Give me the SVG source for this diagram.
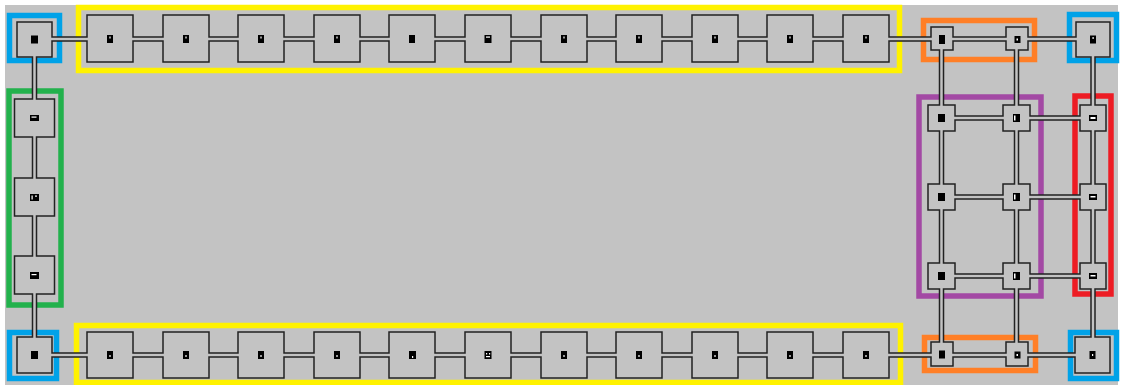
<svg xmlns="http://www.w3.org/2000/svg" width="1122" height="385" viewBox="0 0 1122 385">
<style>
.room{fill:#c3c3c3;stroke:#222;stroke-width:1.5}
.lbl{fill:#000}
.wd{fill:#fff}
.cw{fill:none;stroke:#222;stroke-width:5.5}
.cc{fill:none;stroke:#c3c3c3;stroke-width:2.5}
.zone{fill:none;stroke-width:5.5}
</style>
<rect x="0" y="0" width="1122" height="385" fill="#fff"/>
<rect x="5" y="5" width="1113" height="380" fill="#c3c3c3"/>
<g id="zones">
<rect class="zone" x="78.5" y="7.5" width="821" height="63" stroke="#fff200"/>
<rect class="zone" x="76.5" y="325.5" width="824" height="57" stroke="#fff200"/>
<rect class="zone" x="9.5" y="15.5" width="50" height="45" stroke="#00a2e8"/>
<rect class="zone" x="9.5" y="332.5" width="47" height="46" stroke="#00a2e8"/>
<rect class="zone" x="1069.5" y="14.5" width="47" height="46" stroke="#00a2e8"/>
<rect class="zone" x="1070.5" y="332.5" width="46" height="46" stroke="#00a2e8"/>
<rect class="zone" x="9" y="91" width="52" height="214" stroke="#22b14c" stroke-width="6"/>
<rect class="zone" x="919" y="97" width="122" height="199" stroke="#a349a4" stroke-width="6"/>
<rect class="zone" x="1075" y="96" width="36" height="198" stroke="#ed1c24" stroke-width="6"/>
<rect class="zone" x="923.5" y="20.5" width="111" height="39" stroke="#ff7f27"/>
<rect class="zone" x="924.5" y="337.5" width="111" height="33" stroke="#ff7f27"/>
</g>
<g id="nodes">
<g id="corner-tl"><rect class="room" x="17" y="22" width="35" height="35"/><rect class="lbl" x="31" y="35.5" width="7" height="8"/></g>
<g id="corner-bl"><rect class="room" x="17" y="337" width="35" height="36"/><rect class="lbl" x="31" y="351" width="7" height="8"/></g>
<g id="corner-tr"><rect class="room" x="1076" y="22" width="34" height="35"/><rect class="lbl" x="1090" y="35.5" width="6" height="8"/><rect class="wd" x="1092.5" y="37" width="1.2" height="2"/></g>
<g id="corner-br"><rect class="room" x="1075" y="337" width="35" height="36"/><rect class="lbl" x="1089.5" y="351" width="6" height="8"/><rect class="wd" x="1092" y="354" width="1.2" height="2"/></g>

<g id="t1"><rect class="room" x="87" y="15" width="46" height="47"/><rect class="lbl" x="107" y="35" width="6" height="8"/><rect class="wd" x="109.4" y="36.5" width="1.2" height="2"/></g>
<g id="t2"><rect class="room" x="163" y="15" width="46" height="47"/><rect class="lbl" x="183" y="35" width="6" height="8"/><rect class="wd" x="185.4" y="36.5" width="1.2" height="2"/></g>
<g id="t3"><rect class="room" x="238" y="15" width="46" height="47"/><rect class="lbl" x="258" y="35" width="6" height="8"/><rect class="wd" x="260.4" y="36.5" width="1.2" height="2"/></g>
<g id="t4"><rect class="room" x="314" y="15" width="46" height="47"/><rect class="lbl" x="334" y="35" width="6" height="8"/><rect class="wd" x="336.4" y="36.5" width="1.2" height="2"/></g>
<g id="t5"><rect class="room" x="389" y="15" width="46" height="47"/><rect class="lbl" x="409" y="35" width="6" height="8"/></g>
<g id="t6"><rect class="room" x="465" y="15" width="46" height="47"/><rect class="lbl" x="484.5" y="35" width="7" height="8"/><rect class="wd" x="486" y="36.5" width="4" height="1.2"/></g>
<g id="t7"><rect class="room" x="541" y="15" width="46" height="47"/><rect class="lbl" x="561" y="35" width="6" height="8"/><rect class="wd" x="563.4" y="36.5" width="1.2" height="2"/></g>
<g id="t8"><rect class="room" x="616" y="15" width="46" height="47"/><rect class="lbl" x="636" y="35" width="6" height="8"/><rect class="wd" x="638.4" y="36.5" width="1.2" height="2"/></g>
<g id="t9"><rect class="room" x="692" y="15" width="46" height="47"/><rect class="lbl" x="712" y="35" width="6" height="8"/><rect class="wd" x="714.4" y="36.5" width="1.2" height="2"/></g>
<g id="t10"><rect class="room" x="767" y="15" width="46" height="47"/><rect class="lbl" x="787" y="35" width="6" height="8"/><rect class="wd" x="789.4" y="36.5" width="1.2" height="2"/></g>
<g id="t11"><rect class="room" x="843" y="15" width="46" height="47"/><rect class="lbl" x="863" y="35" width="6" height="8"/><rect class="wd" x="865.4" y="36.5" width="1.2" height="2"/></g>

<g id="b1"><rect class="room" x="87" y="332" width="46" height="46"/><rect class="lbl" x="107" y="351" width="6" height="8"/><rect class="wd" x="109.4" y="355" width="1.2" height="2"/></g>
<g id="b2"><rect class="room" x="163" y="332" width="46" height="46"/><rect class="lbl" x="183" y="351" width="6" height="8"/><rect class="wd" x="185.4" y="355" width="1.2" height="2"/></g>
<g id="b3"><rect class="room" x="238" y="332" width="46" height="46"/><rect class="lbl" x="258" y="351" width="6" height="8"/><rect class="wd" x="260.4" y="355" width="1.2" height="2"/></g>
<g id="b4"><rect class="room" x="314" y="332" width="46" height="46"/><rect class="lbl" x="334" y="351" width="6" height="8"/><rect class="wd" x="336.4" y="355" width="1.2" height="2"/></g>
<g id="b5"><rect class="room" x="389" y="332" width="46" height="46"/><rect class="lbl" x="409" y="351" width="7" height="8"/><rect class="wd" x="412" y="356" width="1.2" height="2"/></g>
<g id="b6"><rect class="room" x="465" y="332" width="46" height="46"/><rect class="lbl" x="484.5" y="351" width="7" height="8"/><rect class="wd" x="486" y="353" width="1.2" height="1.5"/><rect class="wd" x="489" y="353" width="1.2" height="1.5"/><rect class="wd" x="486" y="356" width="4" height="1.2"/></g>
<g id="b7"><rect class="room" x="541" y="332" width="46" height="46"/><rect class="lbl" x="561" y="351" width="6" height="8"/><rect class="wd" x="563.4" y="355" width="1.2" height="2"/></g>
<g id="b8"><rect class="room" x="616" y="332" width="46" height="46"/><rect class="lbl" x="636" y="351" width="6" height="8"/><rect class="wd" x="638.4" y="355" width="1.2" height="2"/></g>
<g id="b9"><rect class="room" x="692" y="332" width="46" height="46"/><rect class="lbl" x="712" y="351" width="6" height="8"/><rect class="wd" x="714.4" y="355" width="1.2" height="2"/></g>
<g id="b10"><rect class="room" x="767" y="332" width="46" height="46"/><rect class="lbl" x="787" y="351" width="6" height="8"/><rect class="wd" x="789.4" y="355" width="1.2" height="2"/></g>
<g id="b11"><rect class="room" x="843" y="332" width="46" height="46"/><rect class="lbl" x="863" y="351" width="6" height="8"/><rect class="wd" x="865.4" y="355" width="1.2" height="2"/></g>

<g id="g1"><rect class="room" x="14.5" y="99" width="40" height="38"/><rect class="lbl" x="30" y="115" width="9" height="6"/><rect class="wd" x="31.5" y="116.5" width="5" height="1.2"/></g>
<g id="g2"><rect class="room" x="14.5" y="178" width="40" height="38"/><rect class="lbl" x="30" y="194" width="9" height="7"/><rect class="wd" x="31.5" y="195.5" width="1.2" height="4"/><rect class="wd" x="35" y="195.5" width="2" height="1.2"/></g>
<g id="g3"><rect class="room" x="14.5" y="256" width="40" height="38"/><rect class="lbl" x="30" y="272" width="9" height="7"/><rect class="wd" x="31.5" y="274" width="5" height="1.2"/></g>

<g id="o1"><rect class="room" x="931" y="27" width="22" height="23"/><rect class="lbl" x="939" y="35" width="6" height="9"/></g>
<g id="o2"><rect class="room" x="1006" y="27" width="22" height="23"/><rect class="lbl" x="1014.5" y="36" width="6" height="7"/><rect class="wd" x="1016.5" y="38.5" width="1.5" height="2"/></g>
<g id="o3"><rect class="room" x="931" y="342" width="22" height="24"/><rect class="lbl" x="939" y="350.5" width="6" height="8"/></g>
<g id="o4"><rect class="room" x="1006" y="342" width="22" height="24"/><rect class="lbl" x="1014.5" y="351.5" width="6" height="7"/><rect class="wd" x="1016.5" y="354" width="1.5" height="2"/></g>

<g id="p1"><rect class="room" x="928" y="105" width="27" height="26"/><rect class="lbl" x="938" y="114" width="7" height="8"/></g>
<g id="p2"><rect class="room" x="1003" y="105" width="27" height="26"/><rect class="lbl" x="1013" y="114" width="7" height="8"/><rect class="wd" x="1014" y="115.5" width="1.5" height="5"/></g>
<g id="p3"><rect class="room" x="928" y="184" width="27" height="26"/><rect class="lbl" x="938" y="193" width="7" height="8"/></g>
<g id="p4"><rect class="room" x="1003" y="184" width="27" height="26"/><rect class="lbl" x="1013" y="193" width="7" height="8"/><rect class="wd" x="1014" y="194.5" width="1.5" height="5"/></g>
<g id="p5"><rect class="room" x="928" y="263" width="27" height="26"/><rect class="lbl" x="938" y="272" width="7" height="8"/></g>
<g id="p6"><rect class="room" x="1003" y="263" width="27" height="26"/><rect class="lbl" x="1013" y="272" width="7" height="8"/><rect class="wd" x="1014" y="273.5" width="1.5" height="5"/></g>

<g id="r1"><rect class="room" x="1080" y="105" width="26" height="26"/><rect class="lbl" x="1089" y="115" width="8" height="6"/><rect class="wd" x="1090.5" y="117" width="5" height="2"/></g>
<g id="r2"><rect class="room" x="1080" y="184" width="26" height="26"/><rect class="lbl" x="1089" y="194" width="8" height="6"/><rect class="wd" x="1090.5" y="196" width="5" height="1.5"/></g>
<g id="r3"><rect class="room" x="1080" y="263" width="26" height="26"/><rect class="lbl" x="1089" y="273" width="8" height="6"/><rect class="wd" x="1090.5" y="275" width="5" height="1.5"/></g>
</g>
<g id="connectors">
<path class="cw" d="M52 39H87M133 39H163M209 39H238M284 39H314M360 39H389M435 39H465M511 39H541M587 39H616M662 39H692M738 39H767M813 39H843M889 39H931M953 39H1006M1028 39H1076
M52 355H87M133 355H163M209 355H238M284 355H314M360 355H389M435 355H465M511 355H541M587 355H616M662 355H692M738 355H767M813 355H843M889 355H931M953 355H1006M1028 355H1075
M955 118H1003M1030 118H1080M955 197H1003M1030 197H1080M955 276H1003M1030 276H1080
M34.5 57V99M34.5 137V178M34.5 216V256M34.5 294V337
M941.5 50V105M941.5 131V184M941.5 210V263M941.5 289V342
M1016.5 50V105M1016.5 131V184M1016.5 210V263M1016.5 289V342
M1093 57V105M1093 131V184M1093 210V263M1093 289V337"/>
<path class="cc" d="M50 39H89M131 39H165M207 39H240M282 39H316M358 39H391M433 39H467M509 39H543M585 39H618M660 39H694M736 39H769M811 39H845M887 39H933M951 39H1008M1026 39H1078
M50 355H89M131 355H165M207 355H240M282 355H316M358 355H391M433 355H467M509 355H543M585 355H618M660 355H694M736 355H769M811 355H845M887 355H933M951 355H1008M1026 355H1077
M953 118H1005M1028 118H1082M953 197H1005M1028 197H1082M953 276H1005M1028 276H1082
M34.5 55V101M34.5 135V180M34.5 214V258M34.5 292V339
M941.5 48V107M941.5 129V186M941.5 208V265M941.5 287V344
M1016.5 48V107M1016.5 129V186M1016.5 208V265M1016.5 287V344
M1093 55V107M1093 129V186M1093 208V265M1093 287V339"/>
</g>
</svg>
